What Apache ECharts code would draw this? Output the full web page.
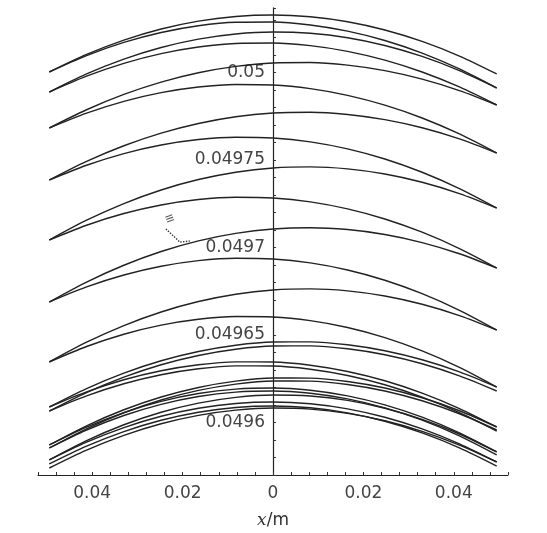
<!DOCTYPE html>
<html>
<head>
<meta charset="utf-8">
<script src="https://cdn.jsdelivr.net/npm/echarts@6/dist/echarts.min.js"></script>
<style>
    html, body { margin: 0; padding: 0; background: #fff; }
    #chart { width: 547px; height: 533px; }
</style>
</head>
<body>
<div id="chart"></div>
<script>
const xSamples = [-0.0495, -0.04125, -0.033, -0.02475, -0.0165, -0.00825, 0,
                  0.00825, 0.0165, 0.02475, 0.033, 0.04125, 0.0495];

// y of each arc at xSamples, top arc first
const arcs = [
    [0.04980029, 0.04981032, 0.04981851, 0.04982486, 0.04982937, 0.04983203, 0.04983286, 0.04983184, 0.04982899, 0.04982429, 0.04981775, 0.04980937, 0.04979915],
    [0.04980029, 0.04980965, 0.04981718, 0.04982286, 0.0498267, 0.0498287, 0.04982886, 0.04982718, 0.04982365, 0.04981829, 0.04981108, 0.04980203, 0.04979115],
    [0.04978885, 0.04979917, 0.04980765, 0.04981428, 0.04981908, 0.04982203, 0.04982314, 0.04982241, 0.04981984, 0.04981543, 0.04980917, 0.04980108, 0.04979114],
    [0.04978886, 0.04979793, 0.04980524, 0.04981079, 0.04981457, 0.0498166, 0.04981686, 0.04981536, 0.0498121, 0.04980707, 0.04980029, 0.04979174, 0.04978143],
    [0.04976829, 0.04977872, 0.04978746, 0.0497945, 0.04979984, 0.04980349, 0.04980543, 0.04980568, 0.04980422, 0.04980107, 0.04979622, 0.04978968, 0.04978143],
    [0.04976829, 0.04977679, 0.04978353, 0.0497885, 0.04979172, 0.04979317, 0.04979286, 0.04979079, 0.04978696, 0.04978136, 0.049774, 0.04976488, 0.049754],
    [0.04973857, 0.0497492, 0.04975813, 0.04976536, 0.04977089, 0.04977473, 0.04977686, 0.0497773, 0.04977603, 0.04977307, 0.04976842, 0.04976206, 0.049754],
    [0.04973857, 0.04974701, 0.04975368, 0.04975857, 0.04976168, 0.04976301, 0.04976257, 0.04976035, 0.04975635, 0.04975057, 0.04974301, 0.04973368, 0.04972257],
    [0.04970429, 0.04971559, 0.04972511, 0.04973286, 0.04973883, 0.04974302, 0.04974543, 0.04974606, 0.04974492, 0.049742, 0.0497373, 0.04973083, 0.04972257],
    [0.04970429, 0.04971273, 0.0497194, 0.04972429, 0.0497274, 0.04972873, 0.04972829, 0.04972607, 0.04972207, 0.04971629, 0.04970873, 0.0496994, 0.04968829],
    [0.04966886, 0.04968025, 0.04968987, 0.04969771, 0.04970378, 0.04970806, 0.04971057, 0.0497113, 0.04971025, 0.04970743, 0.04970282, 0.04969644, 0.04968828],
    [0.04966886, 0.04967748, 0.04968429, 0.04968929, 0.04969248, 0.04969386, 0.04969343, 0.04969119, 0.04968714, 0.04968129, 0.04967362, 0.04966414, 0.04965286],
    [0.04963458, 0.04964588, 0.0496554, 0.04966315, 0.04966912, 0.04967331, 0.04967572, 0.04967635, 0.04967521, 0.04967229, 0.04966759, 0.04966112, 0.04965286],
    [0.04963458, 0.04964342, 0.04965045, 0.04965565, 0.04965902, 0.04966057, 0.04966029, 0.04965819, 0.04965426, 0.0496485, 0.04964092, 0.04963152, 0.04962029],
    [0.04960886, 0.04961941, 0.04962822, 0.04963529, 0.0496406, 0.04964417, 0.049646, 0.04964608, 0.04964441, 0.049641, 0.04963584, 0.04962894, 0.04962029],
    [0.04960886, 0.04961751, 0.04962441, 0.04962957, 0.04963298, 0.04963465, 0.04963457, 0.04963274, 0.04962917, 0.04962386, 0.04961679, 0.04960798, 0.04959743],
    [0.04958714, 0.04959813, 0.04960727, 0.04961457, 0.04962003, 0.04962365, 0.04962543, 0.04962537, 0.04962346, 0.04961972, 0.04961413, 0.0496067, 0.04959743],
    [0.04958715, 0.04959738, 0.04960569, 0.04961208, 0.04961655, 0.04961909, 0.04961972, 0.04961843, 0.04961521, 0.04961008, 0.04960302, 0.04959405, 0.04958315],
    [0.04957858, 0.04958961, 0.0495987, 0.04960586, 0.04961109, 0.04961437, 0.04961572, 0.04961513, 0.04961261, 0.04960815, 0.04960175, 0.04959342, 0.04958315],
    [0.04957858, 0.04958878, 0.04959712, 0.04960358, 0.04960816, 0.04961088, 0.04961172, 0.04961069, 0.04960778, 0.04960301, 0.04959636, 0.04958783, 0.04957743],
    [0.049574, 0.04958424, 0.04959267, 0.04959929, 0.0496041, 0.0496071, 0.04960829, 0.04960767, 0.04960524, 0.049601, 0.04959496, 0.0495871, 0.04957743]
];

// extra strands in the dense bands near the bottom
const bundleArcs = [
    [0.04960657, 0.04961712, 0.04962593, 0.049633, 0.04963831, 0.04964188, 0.04964371, 0.04964379, 0.04964212, 0.04963871, 0.04963355, 0.04962665, 0.049618],
    [0.04960657, 0.04961522, 0.04962212, 0.04962728, 0.04963069, 0.04963236, 0.04963228, 0.04963045, 0.04962688, 0.04962157, 0.0496145, 0.04960569, 0.04959514],
    [0.04958543, 0.04959642, 0.04960556, 0.04961286, 0.04961832, 0.04962194, 0.04962372, 0.04962366, 0.04962175, 0.04961801, 0.04961242, 0.04960499, 0.04959572],
    [0.04958544, 0.04959567, 0.04960398, 0.04961037, 0.04961484, 0.04961738, 0.04961801, 0.04961672, 0.0496135, 0.04960837, 0.04960131, 0.04959234, 0.04958144],
    [0.04957629, 0.04958649, 0.04959483, 0.04960129, 0.04960587, 0.04960859, 0.04960943, 0.0496084, 0.04960549, 0.04960072, 0.04959407, 0.04958554, 0.04957514]
];

const xTickValues = [-0.04, -0.02, 0, 0.02, 0.04];
const xTickLabels = ['0.04', '0.02', '0', '0.02', '0.04'];
const yTickValues = [0.0496, 0.04965, 0.0497, 0.04975, 0.0498];
const yTickLabels = ['0.0496', '0.04965', '0.0497', '0.04975', '0.05'];

// small pointer mark left of the axis
const noteLine = [[-0.0237, 0.0497106], [-0.0206, 0.0497031], [-0.0184, 0.0497037]];
const notePoint = [-0.0228, 0.0497162];

function tickLabel(values, labels, v) {
    let i = values.findIndex(t => Math.abs(t - v) < 1e-9);
    return i < 0 ? '' : labels[i];
}

let chart = echarts.init(document.getElementById('chart'));

let series = arcs.concat(bundleArcs).map(ys => ({
    type: 'line',
    data: xSamples.map((x, i) => [x, ys[i]]),
    smooth: 0.3,
    showSymbol: false,
    silent: true,
    lineStyle: { color: '#222', width: 1.4 }
}));

series.push({
    type: 'line',
    data: noteLine,
    showSymbol: false,
    silent: true,
    lineStyle: { color: '#333', width: 1.4, type: 'dotted' }
});

series.push({
    type: 'scatter',
    data: [notePoint],
    symbolSize: 0,
    silent: true,
    label: {
        show: true,
        position: 'inside',
        formatter: '≡',
        fontSize: 15,
        fontWeight: 'bold',
        color: '#333',
        rotate: 20
    }
});

let option = {
    animation: false,
    backgroundColor: '#fff',
    grid: {
        left: 38,
        right: 39,
        top: 7.75,
        bottom: 58,
        outerBoundsMode: 'none'
    },
    xAxis: {
        type: 'value',
        min: -0.052,
        max: 0.052,
        interval: 0.004,
        splitLine: { show: false },
        axisLine: { lineStyle: { color: '#222', width: 1 } },
        axisTick: { show: true, inside: true, length: 3, lineStyle: { color: '#333' } },
        axisLabel: {
            margin: 10,
            fontFamily: 'DejaVu Sans',
            fontSize: 17,
            color: '#444',
            formatter: v => tickLabel(xTickValues, xTickLabels, v)
        },
        name: '{i|x}/m',
        nameLocation: 'middle',
        nameGap: 37,
        nameTextStyle: {
            fontFamily: 'DejaVu Sans',
            fontSize: 17,
            color: '#333',
            rich: { i: { fontFamily: 'DejaVu Serif', fontStyle: 'italic', fontSize: 17, color: '#333' } }
        }
    },
    yAxis: {
        type: 'value',
        min: 0.04957,
        max: 0.049837,
        interval: 0.00001,
        splitLine: { show: false },
        axisLine: { onZero: true, lineStyle: { color: '#222', width: 1.2 } },
        axisTick: { show: true, inside: true, length: 3, lineStyle: { color: '#333' } },
        axisLabel: {
            // labels sit beside the axis drawn at x = 0
            margin: -227,
            fontFamily: 'DejaVu Sans',
            fontSize: 17,
            color: '#444',
            formatter: v => tickLabel(yTickValues, yTickLabels, v)
        }
    },
    series: series
};

option && chart.setOption(option);
</script>
</body>
</html>
